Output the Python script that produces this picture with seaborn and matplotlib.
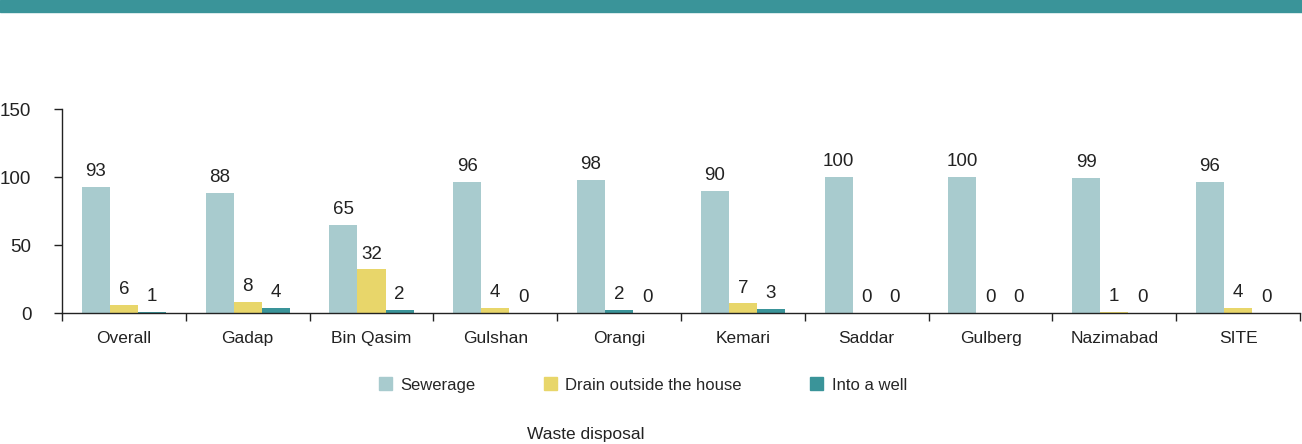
import pandas as pd
import numpy as np
import matplotlib.pyplot as plt
import seaborn as sns
from matplotlib.patches import Rectangle

sns.set_theme(style="ticks")
plt.rcParams['font.family'] = ['Liberation Sans', 'DejaVu Sans']

# Data
areas = ['Overall', 'Gadap', 'Bin Qasim', 'Gulshan', 'Orangi',
         'Kemari', 'Saddar', 'Gulberg', 'Nazimabad', 'SITE']
sewerage = [93, 88, 65, 96, 98, 90, 100, 100, 99, 96]
drain = [6, 8, 32, 4, 2, 7, 0, 0, 1, 4]
well = [1, 4, 2, 0, 0, 3, 0, 0, 0, 0]
series_names = ['Sewerage', 'Drain outside the house', 'Into a well']
colors = ['#A8CBCE', '#E8D66A', '#3A9499']
text_color = '#222222'

df = pd.DataFrame({
    'area': areas * 3,
    'kind': [s for s in series_names for _ in areas],
    'value': sewerage + drain + well,
})

fig = plt.figure(figsize=(13.02, 4.44), dpi=100)
ax = fig.add_axes([62 / 1302, 131 / 444, 1238 / 1302, 204 / 444])

sns.barplot(data=df, x='area', y='value', hue='kind', order=areas,
            hue_order=series_names, palette=colors, width=0.68,
            saturation=1, errorbar=None, legend=False, linewidth=0, ax=ax)

# in the reference the Orangi "drain" bar is drawn in the well colour
ax.containers[1][areas.index('Orangi')].set_facecolor(colors[2])

for cont in ax.containers:
    ax.bar_label(cont, labels=[f"{v:.0f}" for v in cont.datavalues],
                 padding=5, fontsize=13.5, color=text_color)

ax.set_xlim(-0.5, len(areas) - 0.5)
ax.set_ylim(0, 150)
ax.set_yticks([0, 50, 100, 150])
ax.set_xlabel('')
ax.set_ylabel('')
ax.tick_params(axis='x', which='major', length=0, pad=13, labelsize=12.5, colors=text_color)
ax.set_xticks(np.arange(-0.5, len(areas)), minor=True)
ax.tick_params(axis='x', which='minor', length=6, width=1, color=text_color, direction='out')
ax.tick_params(axis='y', length=6, width=1, labelsize=13.5, colors=text_color, pad=16)
for side in ['top', 'right']:
    ax.spines[side].set_visible(False)
for side in ['left', 'bottom']:
    ax.spines[side].set_color(text_color)
    ax.spines[side].set_linewidth(1)

handles = [Rectangle((0, 0), 1, 1, color=c) for c in colors]
fig.legend(handles, series_names, loc='center', bbox_to_anchor=(643 / 1302, 1 - 385 / 444),
           ncol=3, frameon=False, fontsize=12, handlelength=0.78, handleheight=0.78,
           handletextpad=0.5, columnspacing=4.1)

fig.text(586 / 1302, 1 - 434 / 444, 'Waste disposal', ha='center', va='center',
         fontsize=12.5, color=text_color)

fig.patches.append(Rectangle((0, 1 - 12 / 444), 1, 12 / 444, transform=fig.transFigure,
                             color='#3A9499', zorder=0))

fig.savefig('out.png', dpi=100)
